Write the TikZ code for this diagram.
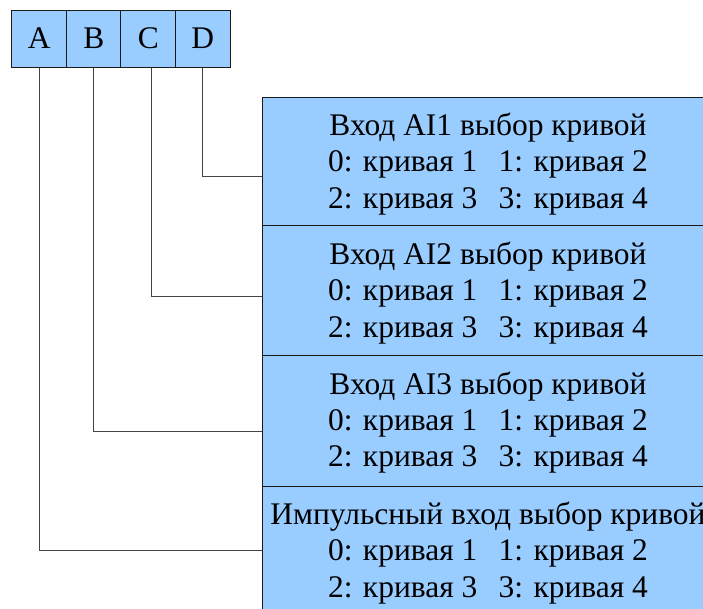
\documentclass[tikz,border=0pt]{standalone}
\usepackage{fontspec}
\setmainfont{Liberation Serif}
\definecolor{panelblue}{HTML}{99CCFF}
\definecolor{conngray}{HTML}{444444}
\definecolor{edge}{HTML}{1A1A1A}
\begin{document}
\begin{tikzpicture}[x=0.75pt,y=-0.75pt,
  txt/.style={font=\fontsize{23.6}{27.3}\selectfont},
  cell/.style={txt,draw=edge,fill=panelblue,line width=0.75pt,minimum width=40.9pt,minimum height=42.75pt,inner sep=0pt},
  panel/.style={draw=edge,fill=panelblue,line width=0.75pt,minimum width=339pt,inner sep=0pt},
  paneltext/.style={txt,inner sep=0pt,align=center},
  conn/.style={draw=conngray,line width=0.75pt}]
\useasboundingbox (0,0) rectangle (703,608);
\clip (0,0) rectangle (703,608);
\node[cell] (A) at (39.25,38.5) {A};
\node[cell] (B) at (93.75,38.5) {B};
\node[cell] (C) at (148.25,38.5) {C};
\node[cell] (D) at (202.75,38.5) {D};
\newcommand{\opts}{0: кривая 1\hspace{16pt}1: кривая 2\\2: кривая 3\hspace{16pt}3: кривая 4}
\node[panel,minimum height=96pt] (b1) at (488,161) {};
\node[panel,minimum height=97.5pt] (b2) at (488,290) {};
\node[panel,minimum height=98.25pt] (b3) at (488,420.5) {};
\node[panel,minimum height=97.5pt] (b4) at (488,551) {};
\node[paneltext] (t1) at ([yshift=-2.25pt]b1.center) {Вход AI1 выбор кривой\\\opts};
\node[paneltext] (t2) at ([yshift=-2.25pt]b2.center) {Вход AI2 выбор кривой\\\opts};
\node[paneltext] (t3) at ([yshift=-1.5pt]b3.center) {Вход AI3 выбор кривой\\\opts};
\node[paneltext] (t4) at ([yshift=-1.5pt]b4.center) {Импульсный вход выбор кривой\\\opts};
\coordinate (yd) at (0,176);
\coordinate (yc) at (0,296);
\coordinate (yb) at (0,431);
\coordinate (ya) at (0,550);
\draw[conn] (A.south) |- (b4.west |- ya);
\draw[conn] (B.south) |- (b3.west |- yb);
\draw[conn] ([xshift=2.25pt]C.south) |- (b2.west |- yc);
\draw[conn] (D.south) |- (b1.west |- yd);
\end{tikzpicture}
\end{document}
